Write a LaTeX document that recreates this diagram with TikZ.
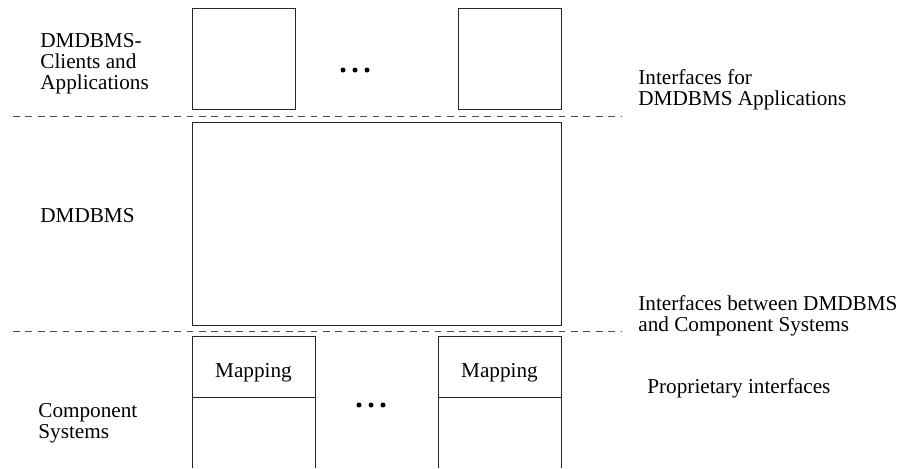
\documentclass[tikz,border=0pt]{standalone}
\usepackage{fontspec}
\setmainfont{Liberation Serif}
\usetikzlibrary{positioning}
\tikzset{
  layerbox/.style={draw=black!85, line width=0.5pt},
  layerline/.style={draw=black!70, line width=0.5pt, dash pattern=on 3.4pt off 2.8pt},
  lbl/.style={inner sep=0pt, anchor=base west, align=left,
              font=\fontsize{10.6}{10.4}\selectfont},
}

\begin{document}
\begin{tikzpicture}[x=0.5pt,y=-0.5pt]
  \useasboundingbox (0,0) rectangle (902,468);
  % clients and applications
  \draw[layerbox] (192,8) rectangle (295,109);
  \draw[layerbox] (458,8) rectangle (561,109);
  \foreach \dx in {-12,0,12} {
    \fill (355+\dx,70) circle (2.5);
  }
  % interface line for applications
  \coordinate (ifapp-l) at (13,116);
  \coordinate (ifapp-r) at (622,116);
  \draw[layerline] (ifapp-l) -- (ifapp-r);
  % dmdbms
  \draw[layerbox] (192,122) rectangle (561,325);
  % interface line for component systems
  \coordinate (ifcs-l) at (13,331);
  \coordinate (ifcs-r) at (622,331);
  \draw[layerline] (ifcs-l) -- (ifcs-r);
  % component systems (open at the bottom)
  \foreach \xl in {192,438} {
    \draw[layerbox] (\xl,468) -- (\xl,336) -- (\xl+123,336) -- (\xl+123,468);
    \draw[layerbox] (\xl,397) -- (\xl+123,397);
  }
  \node[lbl, anchor=base] (mapA) at (253.5,377) {Mapping};
  \node[lbl, anchor=base] (mapB) at (499.5,377) {Mapping};
  \foreach \dx in {-12,0,12} {
    \fill (371+\dx,405) circle (2.5);
  }
  % layer names (base = last line)
  \node[lbl] (clients) at (40,89) {DMDBMS-\\Clients and\\Applications};
  \node[lbl] (dmdbms) at (40,222) {DMDBMS};
  \node[lbl] (compsys) at (38,438) {Component\\Systems};
  % interface names
  \node[lbl] (ifapp) at (638,105) {Interfaces for\\DMDBMS Applications};
  \node[lbl] (ifcs) at (638,331) {Interfaces between DMDBMS\\and Component Systems};
  \node[lbl] (ifprop) at (647,393) {Proprietary interfaces};
\end{tikzpicture}
\end{document}
